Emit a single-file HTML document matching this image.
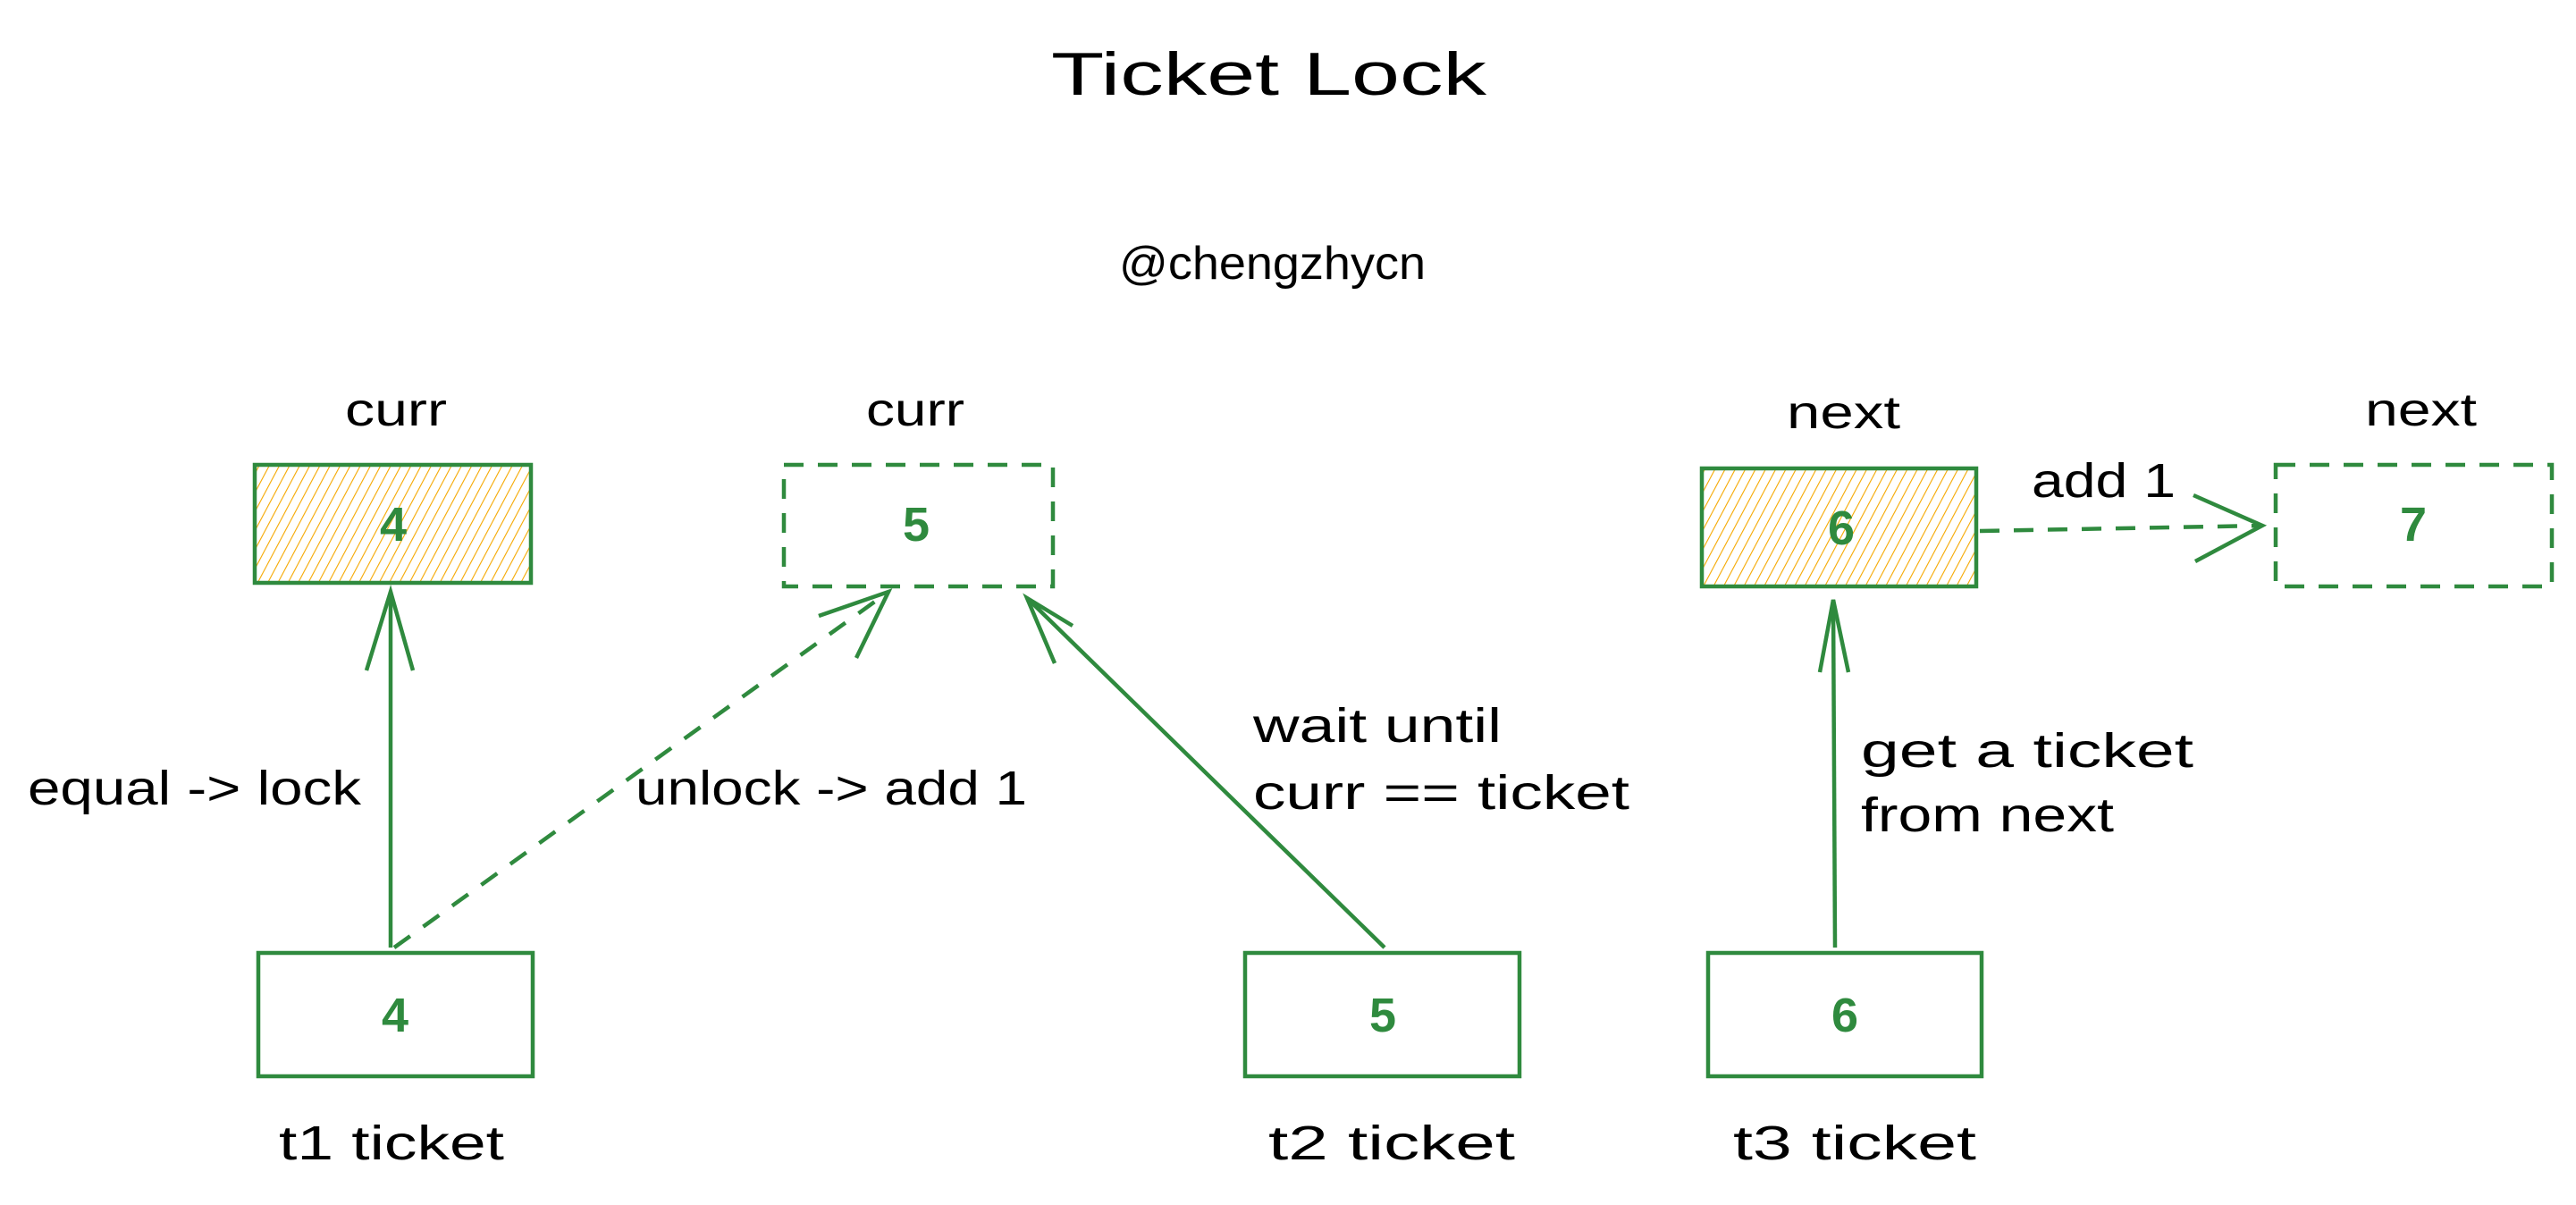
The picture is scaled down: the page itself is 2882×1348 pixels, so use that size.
<!DOCTYPE html>
<html><head><meta charset="utf-8"><style>
html,body{margin:0;padding:0;background:#fff;}
svg{display:block;}
text{font-family:"Liberation Sans",sans-serif;}
</style></head><body>
<svg width="2882" height="1348" viewBox="0 0 2882 1348" xmlns="http://www.w3.org/2000/svg">
<defs>
<pattern id="h" patternUnits="userSpaceOnUse" width="10" height="10" patternTransform="rotate(28)">
<line x1="0" y1="0" x2="0" y2="10" stroke="#f5a800" stroke-width="2.2"/>
</pattern>
</defs>
<g fill="#000" lengthAdjust="spacingAndGlyphs">
<text x="1176" y="106" font-size="68" textLength="487" lengthAdjust="spacingAndGlyphs">Ticket Lock</text>
<text x="1252" y="312" font-size="52" textLength="343" lengthAdjust="spacingAndGlyphs">@chengzhycn</text>
<text x="386" y="476" font-size="52" textLength="114" lengthAdjust="spacingAndGlyphs">curr</text>
<text x="969" y="476" font-size="52" textLength="110" lengthAdjust="spacingAndGlyphs">curr</text>
<text x="1999" y="479" font-size="52" textLength="127" lengthAdjust="spacingAndGlyphs">next</text>
<text x="2646" y="476" font-size="52" textLength="125" lengthAdjust="spacingAndGlyphs">next</text>
<text x="312" y="1297" font-size="54" textLength="252" lengthAdjust="spacingAndGlyphs">t1 ticket</text>
<text x="1419" y="1297" font-size="54" textLength="276" lengthAdjust="spacingAndGlyphs">t2 ticket</text>
<text x="1939" y="1297" font-size="54" textLength="272" lengthAdjust="spacingAndGlyphs">t3 ticket</text>
<text x="31" y="900" font-size="54" textLength="373" lengthAdjust="spacingAndGlyphs">equal -&gt; lock</text>
<text x="711" y="900" font-size="54" textLength="438" lengthAdjust="spacingAndGlyphs">unlock -&gt; add 1</text>
<text x="1402" y="830" font-size="54" textLength="278" lengthAdjust="spacingAndGlyphs">wait until</text>
<text x="1402" y="905" font-size="54" textLength="421" lengthAdjust="spacingAndGlyphs">curr == ticket</text>
<text x="2082" y="858" font-size="54" textLength="372" lengthAdjust="spacingAndGlyphs">get a ticket</text>
<text x="2082" y="930" font-size="54" textLength="283" lengthAdjust="spacingAndGlyphs">from next</text>
<text x="2273" y="556" font-size="54" textLength="161" lengthAdjust="spacingAndGlyphs">add 1</text>
</g>
<g stroke="#2f8a3e" stroke-width="4.5" fill="none">
<rect x="285" y="520" width="309" height="132" fill="url(#h)"/>
<rect x="1904" y="524" width="307" height="132" fill="url(#h)"/>
<rect x="289" y="1066" width="307" height="138"/>
<rect x="1393" y="1066" width="307" height="138"/>
<rect x="1911" y="1066" width="306" height="138"/>
<rect x="877" y="520" width="301" height="136" stroke-dasharray="22 16"/>
<rect x="2546" y="520" width="309" height="136" stroke-dasharray="22 16"/>
<line x1="437" y1="1060" x2="437" y2="662"/>
<polyline points="410,750 437,662 462,750"/>
<line x1="441" y1="1060" x2="994" y2="662" stroke-dasharray="22 18"/>
<polyline points="916,689 994,662 958,736"/>
<line x1="1549" y1="1060" x2="1149" y2="669"/>
<polyline points="1180,742 1149,669 1200,700"/>
<line x1="2053" y1="1060" x2="2051" y2="671"/>
<polyline points="2036,752 2051,671 2068,752"/>
<line x1="2215" y1="594" x2="2531" y2="588" stroke-dasharray="22 16"/>
<polyline points="2454,554 2531,588 2456,628"/>
</g>
<g fill="#2f8a3e" font-size="54" font-weight="bold" text-anchor="middle">
<text x="440" y="605">4</text>
<text x="1025" y="605">5</text>
<text x="2060" y="609">6</text>
<text x="2700" y="605">7</text>
<text x="442" y="1154">4</text>
<text x="1547" y="1154">5</text>
<text x="2064" y="1154">6</text>
</g>
</svg>
</body></html>
